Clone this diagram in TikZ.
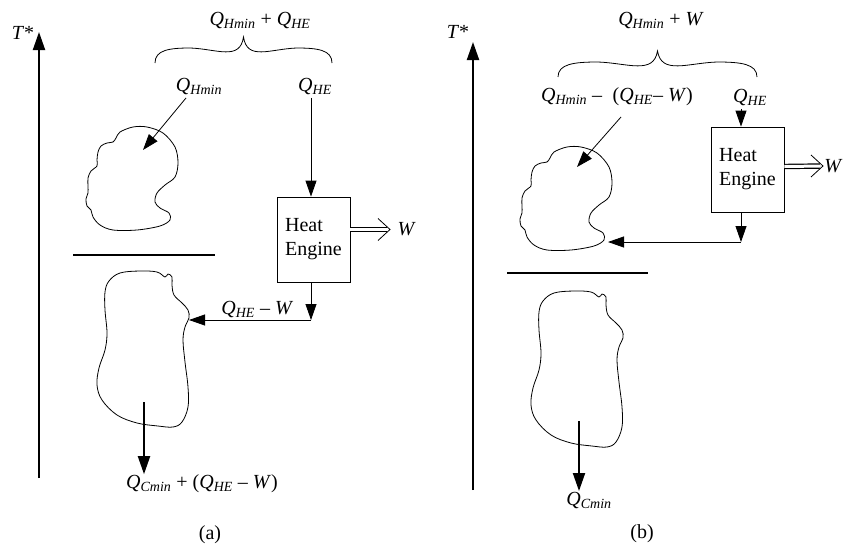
\documentclass[tikz,border=0pt]{standalone}
\usepackage{fontspec}
\setmainfont{Liberation Serif}
\usetikzlibrary{arrows.meta, positioning, calc}

\newcommand{\Qsub}[1]{\textit{Q}\textsubscript{\textit{#1}}}
% outlines of the two streams
\newcommand{\drawhotblob}{\draw plot [smooth cycle, tension=0.55] coordinates {(133,127) (147,127) (163,133) (175,147) (178,163) (175,177) (165,185) (157,193) (155,202) (160,208) (169,213) (170,220) (160,226) (137,230) (113,230) (100,225) (93,217) (91,210) (87,206) (86,199) (88,193) (88,186) (88,178) (91,171) (97,166) (97,160) (98,152) (101,146) (107,143) (113,142) (116,138) (120,132)};}
\newcommand{\drawcoldblob}{\draw plot [smooth cycle, tension=0.6] coordinates {(120,273) (140,271) (157,272) (165,277) (168,274) (172,277) (172,285) (174,295) (182,303) (188,310) (189,318) (185,327) (183,340) (185,362) (188,387) (188,407) (182,422) (173,427) (158,426) (137,423) (117,415) (102,400) (97,385) (99,368) (105,350) (107,333) (105,310) (105,292) (109,281)};}
\newcommand{\drawbrace}{\draw (0,0) .. controls (0,-13) and (0.08,-15) .. (0.2,-15) .. controls (0.35,-14) and (0.48,-2) .. (0.5,-26) .. controls (0.52,-2) and (0.65,-14) .. (0.8,-15) .. controls (0.92,-15) and (1,-13) .. (1,0);}

\tikzset{
  flow/.style={-{Triangle[length=16pt,width=11pt]}},
  heavy/.style={line width=2pt, -{Triangle[length=18pt,width=12pt]}},
  work/.style={double, double distance=3pt, line width=1.2pt, shorten >=3pt},
  chevron/.style={line width=0.8pt},
  engine/.style={draw, minimum width=73pt, minimum height=85pt, align=left, inner sep=2pt},
  wall/.style={line width=2pt}
}

\begin{document}
\begin{tikzpicture}[x=1pt, y=-1pt, line width=0.8pt, font=\fontsize{20}{24}\selectfont]
        \useasboundingbox (0,0) rectangle (843,546);
        % ---------- (a) ----------
        % temperature axis
        \coordinate (axbota) at (39,478);
        \coordinate (axtopa) at (39,32);
        \draw [heavy] (axbota) -- (axtopa);
        \node (tstara) at (23,33) {\textit{T}*};
        % brace and heat inputs
        \begin{scope}[shift={(155,63)}, xscale=177]
            \drawbrace
        \end{scope}
        \node (suma) at (260,20) {\Qsub{Hmin} + \Qsub{HE}};
        \node (qhmina) at (199,86) {\Qsub{Hmin}};
        \node (qhea) at (315,86) {\Qsub{HE}};
        % hot stream
        \drawhotblob
        \coordinate (hota) at (143,150);
        \draw [flow] ([xshift=-13pt]qhmina.south) -- (hota);
        % heat engine
        \node [engine] (enginea) at (313.5,239.5) {Heat\\Engine};
        \coordinate (ina) at ([xshift=-4pt]qhea.south);
        \draw [flow] (ina) -- (ina |- enginea.north);
        \coordinate (wouta) at (390,229.5);
        \draw [work] ([yshift=10pt]enginea.east) -- (wouta);
        \draw [chevron] (wouta) ++(-12,-11) -- (wouta) -- ++(-12,11);
        \node [right=4pt of wouta] (wa) {\textit{W}};
        % pinch
        \draw [wall] (73,255) -- (215,255);
        % cold stream
        \drawcoldblob
        \coordinate (benda) at (311,320);
        \coordinate (colda) at (189,320);
        \draw [flow] (enginea.south -| benda) -- (benda);
        \draw [flow] (benda) -- (colda) node [pos=0.44, above=-1pt] (rejecta) {\Qsub{HE} – \textit{W}};
        \coordinate (couta) at (144,402);
        \node (qcolda) at (202,484) {\Qsub{Cmin} + (\Qsub{HE} – \textit{W})};
        \draw [heavy] (couta) -- ([yshift=-3pt]couta |- qcolda.north);
        \node (capa) at (210,535) {(a)};

        % ---------- (b) ----------
        \coordinate (axbotb) at (473,490);
        \coordinate (axtopb) at (473,42);
        \draw [heavy] (axbotb) -- (axtopb);
        \node (tstarb) at (458,32) {\textit{T}*};
        \begin{scope}[shift={(558,77)}, xscale=199]
            \drawbrace
        \end{scope}
        \node (sumb) at (661,20) {\Qsub{Hmin} + \textit{W}};
        \node (qhminb) at (617,97) {\Qsub{Hmin} –\; (\Qsub{HE}– \textit{W})};
        \node (qheb) at (750,97) {\Qsub{HE}};
        % hot stream
        \begin{scope}[shift={(434,20)}]
            \drawhotblob
        \end{scope}
        \coordinate (hotb) at (577,167);
        \coordinate (outb) at (621,117);
        \draw [flow] (outb) -- (hotb);
        % heat engine
        \node [engine] (engineb) at (747.5,169.5) {Heat\\Engine};
        \coordinate (inb) at ([xshift=-9pt]qheb.south);
        \draw [flow] (inb) -- (inb |- engineb.north);
        \coordinate (woutb) at (823,166);
        \draw [work] ([yshift=3pt]engineb.east) -- (woutb);
        \draw [chevron] (woutb) ++(-12,-11) -- (woutb) -- ++(-12,11);
        \node [right=0pt of woutb, inner sep=1pt] (wb) {\textit{W}};
        \coordinate (bendb) at (741,242);
        \coordinate (backb) at (608,242);
        \draw [flow] (engineb.south -| bendb) -- (bendb);
        \draw [flow] (bendb) -- (backb);
        % pinch
        \draw [wall] (507,273) -- (648,273);
        % cold stream
        \begin{scope}[shift={(434,20)}]
            \drawcoldblob
        \end{scope}
        \coordinate (coutb) at (579,421);
        \node (qcoldb) at (589,500) {\Qsub{Cmin}};
        \draw [heavy] (coutb) -- ([yshift=-3pt]coutb |- qcoldb.north);
        \node (capb) at (642,534) {(b)};
\end{tikzpicture}
\end{document}
